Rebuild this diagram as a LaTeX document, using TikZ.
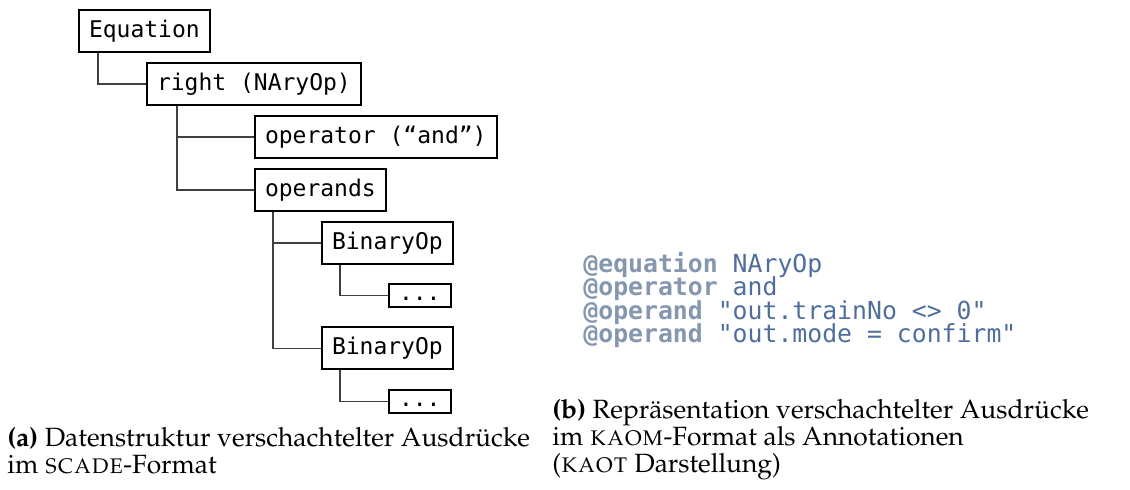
\documentclass[tikz,border=0pt]{standalone}
\usepackage[T1]{fontenc}
\usepackage{fontspec}
\usepackage{xcolor}
\newfontfamily\treemono{DejaVu Sans Mono}
\newcommand\capfont{\fontencoding{T1}\fontfamily{ppl}\selectfont}
\definecolor{kwgray}{HTML}{8497AF}
\definecolor{codeblue}{HTML}{4F6E9E}

\begin{document}
\begin{tikzpicture}[x=0.5pt,y=-0.5pt,
  tbox/.style={draw,line width=1pt,anchor=west,inner xsep=5pt,inner ysep=0pt,
    minimum height=21pt,font=\treemono\fontsize{11.5}{13}\selectfont},
  dotbox/.style={tbox,minimum height=11.5pt,text height=5pt,text depth=0pt},
  conn/.style={line width=0.6pt,draw=black!75},
  codeline/.style={anchor=base west,inner sep=0pt,text=codeblue,
    font=\treemono\fontsize{12.4}{11.5}\selectfont},
  caption/.style={anchor=base west,inner sep=0pt,align=left,
    font=\capfont\fontsize{13.2}{13.5}\selectfont}]
\useasboundingbox (0,0) rectangle (1130,490);
% TREE
\node[tbox] (eq) at (78,31) {Equation};
\node[tbox] (right) at (146,84) {right (NAryOp)};
\node[tbox] (op) at (254,137) {operator (“and”)};
\node[tbox] (opnds) at (254,190) {operands};
\node[tbox] (bin1) at (321,243) {BinaryOp};
\node[dotbox] (dots1) at (388,295.5) {...};
\node[tbox] (bin2) at (321,348.5) {BinaryOp};
\node[dotbox] (dots2) at (388,401.5) {...};
% CONNECTIONS
\draw[conn] ([xshift=10pt]eq.south west) |- (right.west);
\draw[conn] ([xshift=15.5pt]right.south west) |- (op.west);
\draw[conn] ([xshift=15.5pt]right.south west) |- (opnds.west);
\draw[conn] ([xshift=9.5pt]opnds.south west) |- (bin1.west);
\draw[conn] ([xshift=9.5pt]opnds.south west) |- (bin2.west);
\draw[conn] ([xshift=9.5pt]bin1.south west) |- (dots1.west);
\draw[conn] ([xshift=9.5pt]bin2.south west) |- (dots2.west);
% ANNOTATIONS
\node[codeline] (code1) at (583,273) {\textcolor{kwgray}{\bfseries @equation} NAryOp};
\node[codeline] (code2) at (583,296) {\textcolor{kwgray}{\bfseries @operator} and};
\node[codeline] (code3) at (583,319.5) {\textcolor{kwgray}{\bfseries @operand} "out.trainNo <> 0"};
\node[codeline] (code4) at (583,343) {\textcolor{kwgray}{\bfseries @operand} "out.mode = confirm"};
% CAPTIONS (base = last line)
\node[caption] (capa) at (7,474) {{\bfseries (a)} Datenstruktur verschachtelter Ausdr\"ucke\\im \textsc{scade}-Format};
\node[caption] (capb) at (552,473) {{\bfseries (b)} Repr\"asentation verschachtelter Ausdr\"ucke\\im \textsc{kaom}-Format als Annotationen\\(\textsc{kaot} Darstellung)};
\end{tikzpicture}
\end{document}
